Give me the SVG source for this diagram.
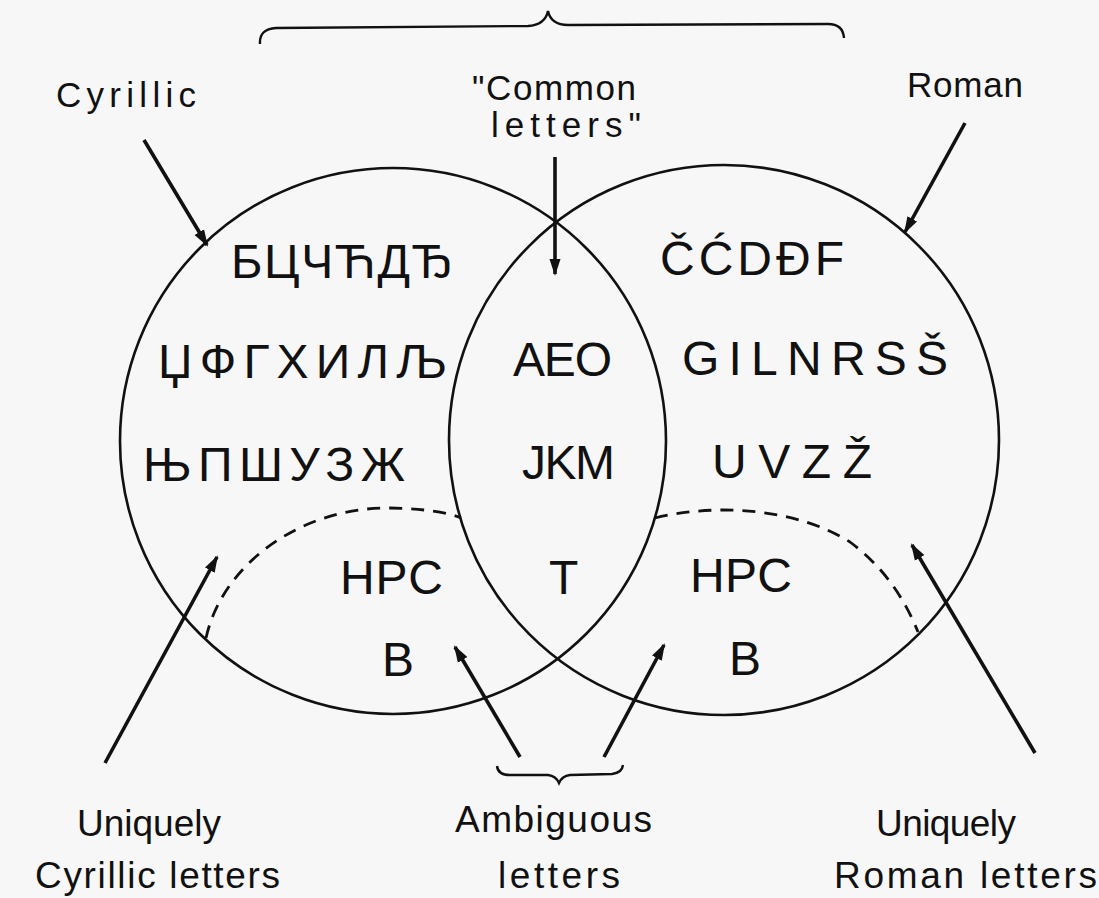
<svg xmlns="http://www.w3.org/2000/svg" width="1099" height="898" viewBox="0 0 1099 898">
<defs>
<marker id="ah" markerUnits="userSpaceOnUse" markerWidth="18" markerHeight="12" refX="15" refY="6" orient="auto">
<path d="M0,0.5 L17,6 L0,11.5 Z" fill="#111"/>
</marker>
<style>
.c{fill:none;stroke:#111;stroke-width:2.6}
.d{fill:none;stroke:#111;stroke-width:2.8;stroke-dasharray:13 9}
.a{fill:none;stroke:#111;stroke-width:3.6;marker-end:url(#ah)}
.b{fill:none;stroke:#111;stroke-width:2.4}
.l{font-family:"Liberation Sans Narrow","Liberation Sans",Arial,sans-serif;font-size:48px;fill:#111}
.t{font-family:"Liberation Sans Narrow","Liberation Sans",Arial,sans-serif;font-size:35px;fill:#111}
.u{font-family:"Liberation Sans Narrow","Liberation Sans",Arial,sans-serif;font-size:37px;fill:#111}
</style>
</defs>
<rect width="1099" height="898" fill="#f7f7f7"/>
<g id="cyrillic-circle"><circle class="c" cx="393" cy="441" r="273"/></g>
<g id="roman-circle"><circle class="c" cx="724" cy="440" r="275"/></g>
<g id="dashed-boundaries">
<path class="d" d="M206,638 C222,565 300,507 390,508 C425,509 447,512 461,518"/>
<path class="d" d="M655,518 C720,502 800,510 850,542 C885,568 905,600 918,632"/>
</g>
<g id="connectors">
<line class="a" x1="144" y1="140" x2="207" y2="245"/>
<line class="a" x1="965" y1="123" x2="905" y2="232"/>
<line class="a" x1="555" y1="157" x2="555" y2="274"/>
<line class="a" x1="105" y1="763" x2="217" y2="557"/>
<line class="a" x1="520" y1="757" x2="455" y2="647"/>
<line class="a" x1="604" y1="757" x2="664" y2="645"/>
<line class="a" x1="1035" y1="753" x2="912" y2="545"/>
<path class="b" d="M260,44 Q259,29 276,28 L528,26 Q545,25 548,11 Q551,25 568,25 L828,24 Q843,24 844,38"/>
<path class="b" d="M497,766 Q498,775 510,775 L548,775 Q556,776 559,783 Q562,776 570,775 L612,774 Q622,773 623,765"/>
</g>
<g id="cyrillic-unique">
<text class="l" x="231" y="278" textLength="222" lengthAdjust="spacing">БЦЧЋДЂ</text>
<text class="l" x="158" y="378" textLength="289" lengthAdjust="spacing">ЏФГХИЛЉ</text>
<text class="l" x="143" y="481" textLength="262" lengthAdjust="spacing">ЊПШУЗЖ</text>
</g>
<g id="common">
<text class="l" x="513" y="376" textLength="99" lengthAdjust="spacing">AEO</text>
<text class="l" x="522" y="479" textLength="93" lengthAdjust="spacing">JKM</text>
<text class="l" x="549" y="594">T</text>
</g>
<g id="roman-unique">
<text class="l" x="660" y="275" textLength="184" lengthAdjust="spacing">ČĆDĐF</text>
<text class="l" x="682" y="375" textLength="266" lengthAdjust="spacing">GILNRSŠ</text>
<text class="l" x="712" y="478" textLength="160" lengthAdjust="spacing">UVZŽ</text>
</g>
<g id="ambiguous-cyrillic">
<text class="l" x="340" y="594" textLength="103" lengthAdjust="spacing">HPC</text>
<text class="l" x="382" y="676">B</text>
</g>
<g id="ambiguous-roman">
<text class="l" x="690" y="592" textLength="102" lengthAdjust="spacing">HPC</text>
<text class="l" x="729" y="675">B</text>
</g>
<g id="labels">
<text class="t" x="56" y="107" textLength="140" lengthAdjust="spacing">Cyrillic</text>
<text class="t" x="472" y="100" textLength="164" lengthAdjust="spacing">"Common</text>
<text class="t" x="491" y="137" textLength="150" lengthAdjust="spacing">letters"</text>
<text class="t" x="907" y="97" textLength="116" lengthAdjust="spacing">Roman</text>
<text class="u" x="77" y="836" textLength="144" lengthAdjust="spacing">Uniquely</text>
<text class="u" x="35" y="888" textLength="245" lengthAdjust="spacing">Cyrillic letters</text>
<text class="u" x="455" y="832" textLength="197" lengthAdjust="spacing">Ambiguous</text>
<text class="u" x="498" y="888" textLength="122" lengthAdjust="spacing">letters</text>
<text class="u" x="876" y="836" textLength="140" lengthAdjust="spacing">Uniquely</text>
<text class="u" x="834" y="888" textLength="263" lengthAdjust="spacing">Roman letters</text>
</g>
</svg>
